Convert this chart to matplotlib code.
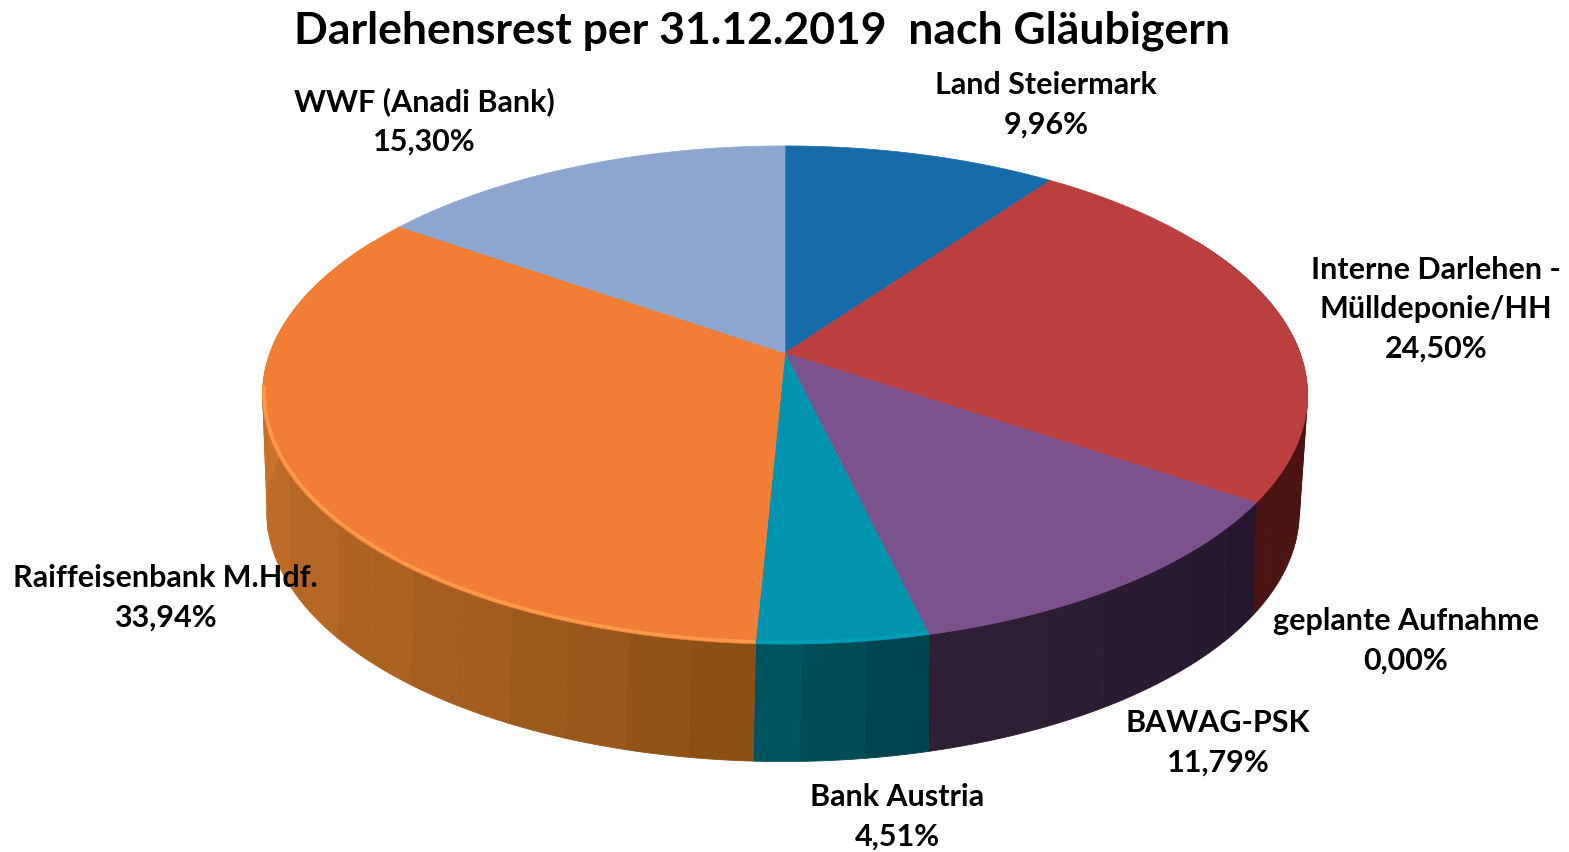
import numpy as np
import matplotlib
matplotlib.use('Agg')
import matplotlib.pyplot as plt
from matplotlib.colors import to_rgb
from matplotlib.patches import Polygon

plt.rcParams['font.family'] = ['Lato', 'DejaVu Sans']

title = 'Darlehensrest per 31.12.2019  nach Gläubigern'
names = ['Land Steiermark', 'Interne Darlehen -\nMülldeponie/HH', 'geplante Aufnahme',
         'BAWAG-PSK', 'Bank Austria', 'Raiffeisenbank M.Hdf.', 'WWF (Anadi Bank)']
values = [9.96, 24.50, 0.00, 11.79, 4.51, 33.94, 15.30]

top_colors = ['#156CA8', '#BC3F3F', '#9BBB59', '#7B528C', '#0093AE', '#F27D35', '#8CA6CF']
# wall colour at start and end of every slice (clockwise)
wall_start = ['#0D4468', '#4A1412', '#4A1412', '#25172F', '#00434F', '#8A4F16', '#5A6C88']
wall_end = ['#0D4468', '#4A1412', '#4A1412', '#2E1E33', '#00535F', '#CC742C', '#5A6C88']

label_x = [1046, 1436, 1406, 1218, 897, 165, 424]
label_y = [105, 309, 641, 743, 817, 598, 121]


def project_top(theta):
    # circle -> picture, with the perspective of the 3d pie
    x, y = np.sin(theta), np.cos(theta)
    w = 1 + 0.1687 * y
    return 785 + 515 * x / w, 354 - 242 * y / w


def project_bottom(theta):
    x, y = np.sin(theta), np.cos(theta)
    w = 1 + 0.19 * y
    return 783 + 507 * x / w, 465 - 241 * y / w


def mix(c1, c2, t):
    c1, c2 = np.array(to_rgb(c1)), np.array(to_rgb(c2))
    return np.clip(c1 + (c2 - c1) * t, 0, 1)


def draw_wall(ax, start, end, c1, c2):
    lo, hi = max(start, np.radians(60)), min(end, np.radians(300))
    if hi <= lo:
        return
    edges = np.arange(lo, hi, np.radians(6.0))
    edges = np.append(edges, hi)
    for i in range(len(edges) - 1):
        tt = np.linspace(edges[i], edges[i + 1], 8)
        tx, ty = project_top(tt)
        bx, by = project_bottom(tt)
        pts = np.column_stack([np.r_[tx, bx[::-1]], np.r_[ty, by[::-1]]])
        ripple = 0.008 if i % 2 == 0 else -0.008
        t = min((edges[i] - lo) / max(hi - lo, 1e-6) * 1.35, 1) ** 0.8
        col = np.clip(mix(c1, c2, t) * (1 + ripple), 0, 1)
        ax.add_patch(Polygon(pts, closed=True, fc=col, ec=col, lw=0.6, zorder=2))


def main():
    fig = plt.figure(figsize=(15.69, 8.53), dpi=100)
    ax = fig.add_axes([0, 0, 1, 1])
    ax.set_xlim(0, 1569)
    ax.set_ylim(853, 0)
    ax.axis('off')

    bounds = np.r_[0, np.cumsum(values)] / np.sum(values) * 2 * np.pi

    for i in range(len(values)):
        draw_wall(ax, bounds[i], bounds[i + 1], wall_start[i], wall_end[i])

    for i in range(len(values)):
        if values[i] == 0:
            continue
        tt = np.linspace(bounds[i], bounds[i + 1], 120)
        tx, ty = project_top(tt)
        pts = np.column_stack([np.r_[785, tx], np.r_[354, ty]])
        ax.add_patch(Polygon(pts, closed=True, fc=top_colors[i], ec=top_colors[i], lw=0.5, zorder=3))

    # lighter rim on the front edge
    for i, rim in [(4, '#009DB8'), (5, '#FF9B48')]:
        start = bounds[i]
        end = min(bounds[i + 1], np.radians(262))
        tx, ty = project_top(np.linspace(start, end, 120))
        ax.plot(tx * 0.997 + 785 * 0.003, ty - 2, color=rim, lw=2.4, solid_capstyle='butt', zorder=4)

    ax.text(762, 31, title, fontsize=32, fontweight='bold', ha='center', va='center', zorder=6)

    for i in range(len(values)):
        pct = ('%.2f%%' % values[i]).replace('.', ',')
        ax.text(label_x[i], label_y[i], names[i] + '\n' + pct, fontsize=22, fontweight='bold',
                ha='center', va='center', linespacing=1.5, zorder=6)

    fig.savefig('out.png', dpi=100)


if __name__ == '__main__':
    main()
